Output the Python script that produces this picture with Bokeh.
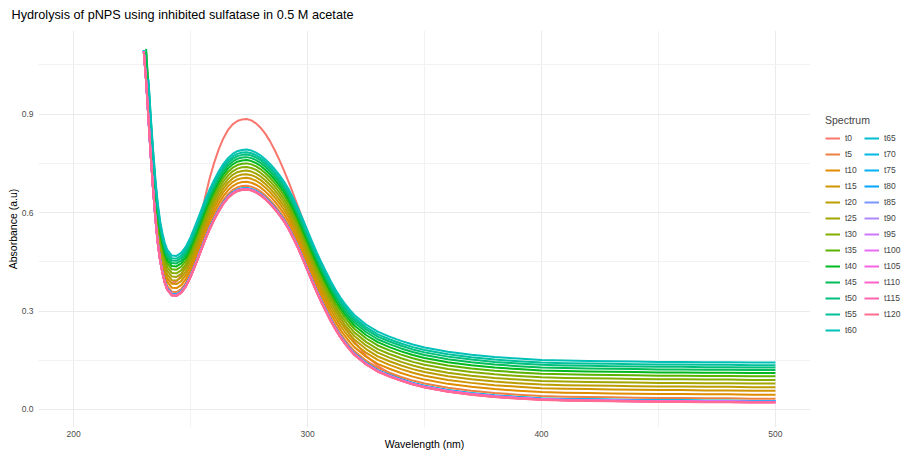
import math
import numpy as np
from bokeh.plotting import figure
from bokeh.layouts import row
from bokeh.models import (ColumnDataSource, FixedTicker, Legend, LegendItem,
                          NumeralTickFormatter, Range1d)
from bokeh.embed import file_html
from bokeh.resources import INLINE

# Wavelength grid (nm)
wavelength = ([230, 231, 232, 233, 234, 235, 236, 237, 238, 239, 240]
              + list(range(242, 321, 2))
              + [325, 330, 335, 340, 345, 350]
              + list(range(360, 501, 10)))

# Late spectrum (t120), absorbance
late_spectrum = [
    1.090, 1.000, 0.885, 0.770, 0.668, 0.578, 0.505, 0.452, 0.414, 0.385, 0.365,
    0.347, 0.346, 0.355, 0.374, 0.403, 0.438, 0.475, 0.512, 0.546, 0.576,
    0.603, 0.626, 0.644, 0.657, 0.665, 0.669, 0.670, 0.667, 0.661, 0.652,
    0.640, 0.626, 0.610, 0.592, 0.572, 0.548, 0.520, 0.490, 0.457, 0.423,
    0.389, 0.356, 0.325, 0.296, 0.268, 0.243, 0.220, 0.200, 0.182, 0.166,
    0.137, 0.115, 0.100, 0.087, 0.076, 0.067,
    0.054, 0.045, 0.038, 0.033, 0.029, 0.027, 0.026, 0.025, 0.024, 0.023,
    0.023, 0.022, 0.022, 0.021, 0.021,
]

# First spectrum (t0), absorbance
first_spectrum = [
    1.090, 1.005, 0.893, 0.782, 0.681, 0.593, 0.522, 0.472, 0.437, 0.412, 0.397,
    0.386, 0.390, 0.408, 0.440, 0.480, 0.526, 0.580, 0.640, 0.700, 0.750,
    0.792, 0.826, 0.852, 0.869, 0.879, 0.884, 0.885, 0.881, 0.872, 0.858,
    0.840, 0.817, 0.790, 0.760, 0.727, 0.692, 0.655, 0.617, 0.578, 0.540,
    0.500, 0.460, 0.420, 0.382, 0.346, 0.312, 0.281, 0.253, 0.229, 0.207,
    0.164, 0.133, 0.110, 0.093, 0.080, 0.070,
    0.055, 0.045, 0.038, 0.033, 0.030, 0.028, 0.027, 0.026, 0.025, 0.024,
    0.024, 0.023, 0.023, 0.023, 0.023,
]

spectrum_labels = ["t0", "t5", "t10", "t15", "t20", "t25", "t30", "t35", "t40",
                   "t45", "t50", "t55", "t60", "t65", "t70", "t75", "t80", "t85",
                   "t90", "t95", "t100", "t105", "t110", "t115", "t120"]

# Baseline rise of each later spectrum above the t120 spectrum
baseline_shift = [0.012, 0.024, 0.036, 0.047, 0.058, 0.069, 0.080, 0.090,
                  0.099, 0.107, 0.114, 0.122, 0.005, 0.004, 0.004, 0.003,
                  0.003, 0.002, 0.002, 0.002, 0.001, 0.001, 0.001, 0.000]

x_ticks = [200, 300, 400, 500]
y_ticks = [0.0, 0.3, 0.6, 0.9]
y_limit = (0.0, 1.1)


def hue_colour(h, c=100.0, l=65.0):
    """Polar LUV -> sRGB hex (D65)."""
    xn, yn, zn = 95.047, 100.0, 108.883
    den = xn + 15 * yn + 3 * zn
    un, vn = 4 * xn / den, 9 * yn / den
    hr = math.radians(h)
    U, V = c * math.cos(hr), c * math.sin(hr)
    Y = yn * ((l + 16) / 116) ** 3
    u = U / (13 * l) + un
    v = V / (13 * l) + vn
    X = 9.0 * Y * u / (4 * v)
    Z = -X / 3 - 5 * Y + 3 * Y / v
    X, Y, Z = X / 100, Y / 100, Z / 100
    rgb = [3.240479 * X - 1.537150 * Y - 0.498535 * Z,
           -0.969256 * X + 1.875992 * Y + 0.041556 * Z,
           0.055648 * X - 0.204043 * Y + 1.057311 * Z]
    out = []
    for ch in rgb:
        ch = 12.92 * ch if ch <= 0.0031308 else 1.055 * ch ** (1 / 2.4) - 0.055
        out.append(int(round(min(max(ch, 0.0), 1.0) * 255)))
    return "#%02X%02X%02X" % tuple(out)


n = len(spectrum_labels)
colours = [hue_colour(15 + i * 360.0 / n) for i in range(n)]

wl = np.array(wavelength, dtype=float)
late = np.array(late_spectrum)
series = [np.array(first_spectrum)] + [late + s for s in baseline_shift]

# ---- main plot ----
p = figure(width=810, height=452, output_backend="svg", toolbar_location=None,
           x_range=Range1d(185, 515), y_range=Range1d(-0.055, 1.155),
           min_border_left=38, min_border_right=0, min_border_top=30,
           min_border_bottom=24)
p.outline_line_color = None
p.background_fill_color = "white"
p.border_fill_color = "white"

p.title.text = "Hydrolysis of pNPS using inhibited sulfatase in 0.5 M acetate"
p.title.text_font = "Liberation Sans"
p.title.text_font_size = "12.7px"
p.title.text_font_style = "normal"
p.title.text_color = "#000000"
p.title.align = "left"
p.title.vertical_align = "top"
p.title.offset = -27
p.title.standoff = 14

for ax in (p.xaxis[0], p.yaxis[0]):
    ax.axis_line_color = None
    ax.major_tick_line_color = None
    ax.minor_tick_line_color = None
    ax.major_tick_in = 0
    ax.major_tick_out = 0
    ax.minor_tick_in = 0
    ax.minor_tick_out = 0
    ax.major_label_text_font = "Liberation Sans"
    ax.major_label_text_font_size = "8.5px"
    ax.major_label_text_color = "#4D4D4D"
    ax.axis_label_text_font = "Liberation Sans"
    ax.axis_label_text_font_size = "10.5px"
    ax.axis_label_text_font_style = "normal"
    ax.axis_label_text_color = "#000000"

p.xaxis.ticker = FixedTicker(ticks=x_ticks, minor_ticks=[250, 350, 450])
p.yaxis.ticker = FixedTicker(ticks=y_ticks, minor_ticks=[0.15, 0.45, 0.75, 1.05])
p.yaxis.formatter = NumeralTickFormatter(format="0.0")
p.xaxis.major_label_standoff = 3
p.xaxis.axis_label = "Wavelength (nm)"
p.xaxis.axis_label_standoff = -2
p.yaxis.major_label_standoff = 5
p.yaxis.axis_label = "Absorbance (a.u)"
p.yaxis.axis_label_standoff = 0

for g in (p.xgrid[0], p.ygrid[0]):
    g.grid_line_color = "#EBEBEB"
    g.grid_line_width = 1
    g.minor_grid_line_color = "#F2F2F2"
    g.minor_grid_line_width = 1

for lab, col, vals in zip(spectrum_labels, colours, series):
    y = np.where(vals > y_limit[1], np.nan, vals)
    src = ColumnDataSource(dict(x=wl, y=y))
    p.line("x", "y", source=src, line_color=col, line_width=2, line_join="round")

# ---- legend strip on the right ----
lf = figure(width=91, height=452, output_backend="svg", toolbar_location=None,
            x_axis_type=None, y_axis_type=None,
            min_border_left=0, min_border_right=0, min_border_top=0,
            min_border_bottom=0, x_range=Range1d(0, 1), y_range=Range1d(0, 1))
lf.outline_line_color = None
lf.xgrid.visible = False
lf.ygrid.visible = False
lf.background_fill_color = "white"
lf.border_fill_color = "white"

items = []
for lab, col in zip(spectrum_labels, colours):
    # key swatch only: its single segment lies outside the strip's range
    r = lf.line(x=[-2, -1], y=[-2, -2], line_color=col, line_width=2)
    items.append(LegendItem(label=lab, renderers=[r]))

legend = Legend(items=items, location=(15, 89), nrows=13, title="Spectrum",
                title_text_font="Liberation Sans", title_text_font_size="10.5px",
                title_text_font_style="normal", title_standoff=4,
                label_text_font="Liberation Sans", label_text_font_size="8.5px",
                label_standoff=5, label_width=19, label_height=16,
                glyph_width=15, glyph_height=16, spacing=0, padding=0, margin=0,
                border_line_color=None, background_fill_alpha=0)
lf.add_layout(legend, "center")

layout = row(p, lf, spacing=0)
open("out.html", "w").write(file_html(layout, INLINE))
